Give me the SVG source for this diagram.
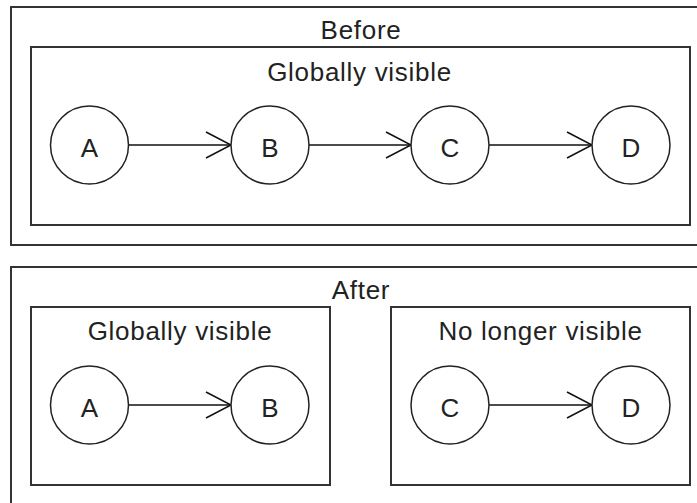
<svg xmlns="http://www.w3.org/2000/svg" width="697" height="503" viewBox="0 0 697 503">
<defs>
<style>
.frame{fill:none;stroke:#333;stroke-width:2}
.node circle{fill:#fff;stroke:#222;stroke-width:1.5}
text{font-family:"Liberation Sans",Arial,sans-serif;fill:#222;text-anchor:middle}
.title{font-size:26px;letter-spacing:0.7px}
.lbl{font-size:26px}
.edge{fill:none;stroke:#111;stroke-width:1.5}
</style>
<marker id="arr" viewBox="0 0 30 30" refX="27" refY="15" markerWidth="30" markerHeight="30" markerUnits="userSpaceOnUse" orient="auto">
<path d="M2,2 L27,15 L2,28" fill="none" stroke="#111" stroke-width="1.5"/>
</marker>
</defs>
<rect width="697" height="503" fill="#fff"/>
<g id="before">
<rect class="frame" x="11" y="7" width="700" height="238"/>
<text class="title" x="361" y="39">Before</text>
<rect class="frame" x="31" y="47" width="659" height="178"/>
<text class="title" x="359.5" y="81">Globally visible</text>
</g>
<g id="after">
<rect class="frame" x="11" y="267" width="700" height="250"/>
<text class="title" x="361" y="299">After</text>
<rect class="frame" x="31" y="307" width="299" height="178"/>
<text class="title" x="180" y="340">Globally visible</text>
<rect class="frame" x="391" y="307" width="299" height="178"/>
<text class="title" x="540.5" y="340">No longer visible</text>
</g>
<g id="connectors">
<line class="edge" x1="129" y1="145" x2="231" y2="145" marker-end="url(#arr)"/>
<line class="edge" x1="309" y1="145" x2="411" y2="145" marker-end="url(#arr)"/>
<line class="edge" x1="489" y1="145" x2="592" y2="145" marker-end="url(#arr)"/>
<line class="edge" x1="129" y1="405" x2="231" y2="405" marker-end="url(#arr)"/>
<line class="edge" x1="489" y1="405" x2="592" y2="405" marker-end="url(#arr)"/>
</g>
<g id="nodeA1" class="node"><circle cx="89.5" cy="145" r="39"/><text class="lbl" x="89.5" y="157">A</text></g>
<g id="nodeB1" class="node"><circle cx="270" cy="145" r="39"/><text class="lbl" x="270" y="157">B</text></g>
<g id="nodeC1" class="node"><circle cx="450" cy="145" r="39"/><text class="lbl" x="450" y="157">C</text></g>
<g id="nodeD1" class="node"><circle cx="631" cy="145" r="39"/><text class="lbl" x="631" y="157">D</text></g>
<g id="nodeA2" class="node"><circle cx="89.5" cy="405" r="39"/><text class="lbl" x="89.5" y="417">A</text></g>
<g id="nodeB2" class="node"><circle cx="270" cy="405" r="39"/><text class="lbl" x="270" y="417">B</text></g>
<g id="nodeC2" class="node"><circle cx="450" cy="405" r="39"/><text class="lbl" x="450" y="417">C</text></g>
<g id="nodeD2" class="node"><circle cx="631" cy="405" r="39"/><text class="lbl" x="631" y="417">D</text></g>
</svg>
